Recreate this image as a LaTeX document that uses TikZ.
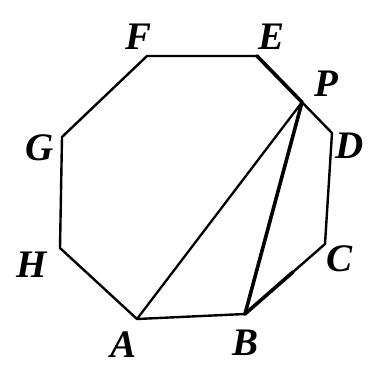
\documentclass[tikz,border=0pt]{standalone}
\usepackage{fontspec}
\setmainfont{Liberation Serif}
\usepackage{tikz}
\usetikzlibrary{calc}

\begin{document}
\begin{tikzpicture}[
    x=1pt, y=-1pt,
    edge/.style  = {line width=2.4pt, line join=miter},
    chord/.style = {line width=2.3pt},
    heavy/.style = {line width=3.6pt, line cap=round},
    lbl/.style   = {font=\fontsize{39}{39}\selectfont\bfseries\itshape, inner sep=0pt},
]
\useasboundingbox (0,0) rectangle (367,367);

% octagon vertices
\coordinate (A) at (137,319);
\coordinate (B) at (245,314);
\coordinate (C) at (325,244);
\coordinate (D) at (332,133);
\coordinate (E) at (257,56);
\coordinate (F) at (147,56);
\coordinate (G) at (62,137);
\coordinate (H) at (60,248);
\coordinate (P) at ($(E)!0.6!(D)$);

% vertex labels
\foreach \v/\x/\y in {A/124/345, B/246/343, C/340/259, D/350/146,
                      E/272/37, F/139/37, G/40/148, H/32/265} {
    \node[lbl] (l\v) at (\x,\y) {\v};
}
\node[lbl] (lP) at (326,84) {P};

% sides
\draw[edge] (A) -- (B) -- (C) -- (D) -- (E) -- (F) -- (G) -- (H) -- cycle;
% segments from P
\draw[chord] (A) -- (P);
\draw[heavy] (B) -- (P);
\draw[heavy] (E) -- (P);
\draw[heavy] (B) -- ($(B)!0.6!(C)$);
\end{tikzpicture}
\end{document}
